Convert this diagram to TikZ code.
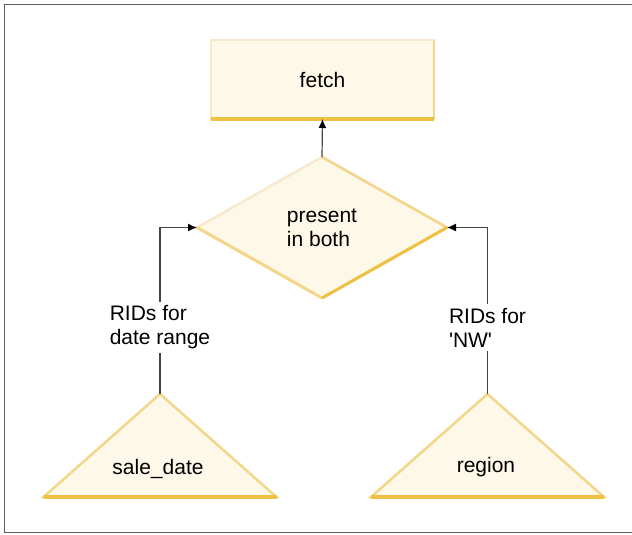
\documentclass[tikz,border=0pt]{standalone}
\usepackage{fontspec}
\setmainfont{Liberation Sans}
\usepackage{tikz}
\usetikzlibrary{shapes.geometric,arrows.meta,positioning,calc}
\definecolor{BoxFill}{RGB}{254,248,232}
\definecolor{EdgeLt}{RGB}{247,234,204}
\definecolor{EdgeMd}{RGB}{243,214,138}
\definecolor{EdgeDk}{RGB}{238,193,66}
\definecolor{FrameGray}{RGB}{95,95,95}
\definecolor{LineGray}{RGB}{70,70,70}

\begin{document}
\begin{tikzpicture}[x=1pt,y=-1pt,font=\fontsize{21}{24}\selectfont,
  box/.style={draw=EdgeLt,fill=BoxFill,line width=2.5pt,inner sep=0pt,outer sep=0pt},
  tribox/.style={box,draw=EdgeMd,isosceles triangle,shape border rotate=90,
    isosceles triangle stretches,minimum width=233pt,minimum height=103pt,anchor=apex},
  conn/.style={LineGray,line width=1.2pt,-{Latex[length=9pt,width=8pt,color=black]}},
  lbl/.style={fill=white,text=black,align=left,inner sep=4pt}]
\useasboundingbox (0,0) rectangle (632,535);
% frame
\draw[FrameGray,line width=1.5pt](632,4.5)-|(4.5,532.5)--(632,532.5);
% fetch box
\node[box,minimum width=223pt,minimum height=79pt](fetch)at(322.5,79.5){fetch};
\draw[EdgeMd,line width=2.5pt](fetch.north east)--(fetch.south east);
\draw[EdgeDk,line width=4pt](fetch.south west)--(fetch.south east);
% decision
\node[box,diamond,minimum width=250pt,minimum height=141pt,align=left](both)at(322,227.5){present\\in both};
\draw[EdgeMd,line width=2.5pt](both.north)--(both.east);
\draw[EdgeMd,line width=3pt](both.west)--(both.south);
\draw[EdgeDk,line width=3pt](both.south)--(both.east);
% index triangles
\node[tribox](saletri)at(160,394){};
\draw[EdgeDk,line width=4pt](saletri.left corner)--(saletri.right corner);
\node(saledate)at(158,469){sale\_date};
\node[tribox](regtri)at(487.5,394){};
\draw[EdgeDk,line width=4pt](regtri.left corner)--(regtri.right corner);
\node(region)at(486,467){region};
% connectors
\draw[conn](both.north)--(fetch.south);
\draw[conn](saletri.apex)|-node[lbl,pos=0.2](ridsale){RIDs for\\date range}(both.west);
\draw[conn](regtri.apex)|-node[lbl,pos=0.2](ridreg){RIDs for\\\textquotesingle NW\textquotesingle}(both.east);
\end{tikzpicture}
\end{document}
